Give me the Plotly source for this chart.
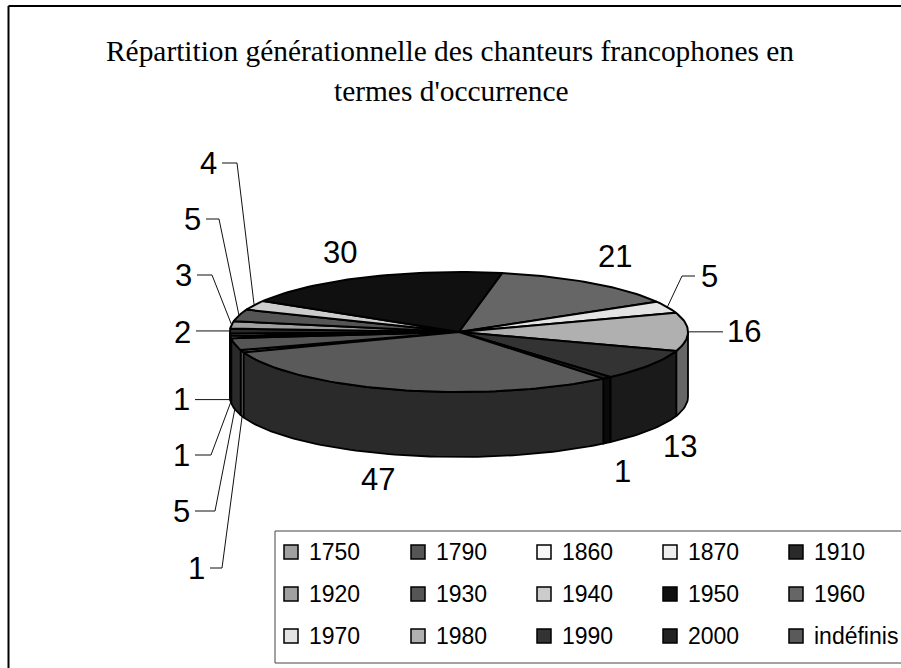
import math
import plotly.graph_objects as go

# ---- data ----
categories = ["1750", "1790", "1860", "1870", "1910", "1920", "1930", "1940",
              "1950", "1960", "1970", "1980", "1990", "2000", "indéfinis"]
values = [1, 5, 1, 1, 2, 3, 5, 4, 30, 21, 5, 16, 13, 1, 47]
title_lines = ["Répartition générationnelle des chanteurs francophones en",
               "termes d'occurrence"]

# ---- styles ----
top_colors = ["#a0a0a0", "#555555", "#f8f8f8", "#eeeeee", "#2a2a2a",
              "#a0a0a0", "#555555", "#cccccc", "#101010", "#666666",
              "#e4e4e4", "#b0b0b0", "#333333", "#222222", "#5a5a5a"]
wall_colors = ["#808080", "#2a2a2a", "#a0a0a0", "#a0a0a0", "#111111",
               "#707070", "#2a2a2a", "#808080", "#050505", "#333333",
               "#909090", "#666666", "#1a1a1a", "#0a0a0a", "#2a2a2a"]

# ---- layout geometry (pixels on the hidden axes) ----
W, H = 901, 668
CX, CY, RX, RY, DEPTH = 459, 332, 229, 60, 65
FIRST_ANGLE = 250.1          # clockwise from the top, start of the first slice
# label centre and elbow x of the leader for each category, in order
label_layout = [
    (196, 568, 222), (181, 511, 215), (181, 455, 211), (181, 399, None),
    (182, 332, None), (183, 275, 212), (192, 219, 219), (208, 163, 237),
    (340, 252, "none"), (615, 256, "none"), (709, 276, 682), (744, 331, None),
    (680, 446, "none"), (622, 471, "none"), (378, 479, "none"),
]
LEG_BOX = (275, 531, 901, 663)
LEG_COLS = [291, 418, 544, 670, 796]
LEG_ROWS = [552, 594, 636]


def pt(angle, drop=0.0):
    a = math.radians(angle)
    return CX + RX * math.sin(a), CY - RY * math.cos(a) + drop


def arc(a1, a2, drop=0.0):
    n = max(2, int(abs(a2 - a1) / 1.5) + 2)
    pts = [pt(a1 + (a2 - a1) * i / (n - 1), drop) for i in range(n)]
    return [p[0] for p in pts], [p[1] for p in pts]


total = sum(values)
starts, ends = [], []
cur = FIRST_ANGLE
for v in values:
    starts.append(cur)
    cur += v / total * 360
    ends.append(cur)

fig = go.Figure()

# walls on the visible front half (90..270 degrees, clockwise from the top)
for name, a1, a2, col in zip(categories, starts, ends, wall_colors):
    spans = []
    for offset in (0, -360):
        lo, hi = max(a1 + offset, 90), min(a2 + offset, 270)
        if lo < hi:
            spans.append((lo, hi))
    for lo, hi in spans:
        xt, yt = arc(lo, hi)
        xb, yb = arc(hi, lo, DEPTH)
        fig.add_trace(go.Scatter(x=xt + xb + xt[:1], y=yt + yb + yt[:1], mode="lines",
                                 fill="toself", fillcolor=col, name=name,
                                 line=dict(color="#000000", width=1.8),
                                 showlegend=False, hoverinfo="skip"))

# top faces
for name, a1, a2, col in zip(categories, starts, ends, top_colors):
    xa, ya = arc(a1, a2)
    fig.add_trace(go.Scatter(x=[CX] + xa + [CX], y=[CY] + ya + [CY], mode="lines",
                             fill="toself", fillcolor=col, name=name,
                             line=dict(color="#000000", width=2),
                             showlegend=False, hoverinfo="name"))

# value labels and leaders
for v, a1, a2, (lx, ly, elbow) in zip(values, starts, ends, label_layout):
    fig.add_annotation(x=lx, y=ly, text=str(v), showarrow=False,
                       font=dict(family="Liberation Sans", size=31, color="#000000"),
                       xanchor="center", yanchor="middle")
    if elbow == "none":
        continue
    mid = (a1 + a2) / 2
    drop = DEPTH if 90 < (mid % 360) < 270 else 0
    ex, ey = pt(mid, drop)
    half = 14 + 7 * (len(str(v)) - 1)
    start_x = lx - half if lx > CX else lx + half
    if elbow is None:
        xs, ys = [start_x, ex], [ey, ey]
    else:
        xs, ys = [start_x, elbow, ex], [ly, ly, ey]
    fig.add_trace(go.Scatter(x=xs, y=ys, mode="lines", showlegend=False, hoverinfo="skip",
                             line=dict(color="#111111", width=1)))

# legend
fig.add_shape(type="rect", x0=LEG_BOX[0], y0=LEG_BOX[1], x1=LEG_BOX[2] + 5, y1=LEG_BOX[3],
              line=dict(color="#444444", width=1), fillcolor="rgba(0,0,0,0)", layer="above")
leg_x, leg_y = [], []
for i, name in enumerate(categories):
    col, row = i % 5, i // 5
    leg_x.append(LEG_COLS[col])
    leg_y.append(LEG_ROWS[row])
    fig.add_annotation(x=LEG_COLS[col] + 16, y=LEG_ROWS[row], text=name, showarrow=False,
                       font=dict(family="Liberation Sans", size=23, color="#000000"),
                       xanchor="left", yanchor="middle")
fig.add_trace(go.Scatter(x=leg_x, y=leg_y, mode="markers", showlegend=False, hoverinfo="skip",
                         marker=dict(symbol="square", size=14, color=top_colors,
                                     line=dict(color="#000000", width=1.5))))

# chart-area frame: only the top and left edges fall inside the picture
fig.add_shape(type="line", x0=8.5, y0=6, x1=W + 5, y1=6, line=dict(color="#000000", width=2))
fig.add_shape(type="line", x0=8.5, y0=6, x1=8.5, y1=H + 5, line=dict(color="#000000", width=2))

# title
title_font = dict(family="Liberation Serif", size=29.4, color="#000000")
fig.add_annotation(x=450, y=51, text=title_lines[0], showarrow=False, font=title_font,
                   xanchor="center", yanchor="middle")
fig.add_annotation(x=451, y=91, text=title_lines[1], showarrow=False, font=title_font,
                   xanchor="center", yanchor="middle")

fig.update_layout(width=W, height=H, margin=dict(l=0, r=0, t=0, b=0),
                  paper_bgcolor="#ffffff", plot_bgcolor="#ffffff", showlegend=False,
                  xaxis=dict(range=[0, W], visible=False, fixedrange=True),
                  yaxis=dict(range=[H, 0], visible=False, fixedrange=True))

fig.write_html("out.html", post_script="document.body.style.margin='0';document.body.style.overflow='hidden';",
               config={"displayModeBar": False})
